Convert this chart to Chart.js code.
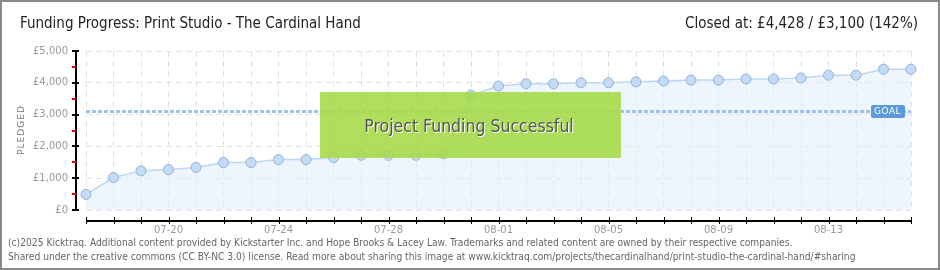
<!DOCTYPE html>
<html>
<head>
<meta charset="utf-8">
<script src="https://cdn.jsdelivr.net/npm/chart.js@4.4.1/dist/chart.umd.min.js"></script>
<style>
  body { margin: 0; background: #fff; }
  #wrap { width: 940px; height: 270px; position: relative; }
</style>
</head>
<body>
<div id="wrap"><canvas id="grafico" width="940" height="270"></canvas></div>
<script>
// dados
const datas = ['07-17','07-18','07-19','07-20','07-21','07-22','07-23','07-24','07-25','07-26',
               '07-27','07-28','07-29','07-30','07-31','08-01','08-02','08-03','08-04','08-05',
               '08-06','08-07','08-08','08-09','08-10','08-11','08-12','08-13','08-14','08-15','08-16'];
const arrecadado = [490, 1020, 1230, 1270, 1340, 1490, 1490, 1585, 1585, 1650,
                    1720, 1720, 1720, 1770, 3615, 3900, 3970, 3970, 4000, 4000,
                    4030, 4055, 4085, 4085, 4120, 4120, 4150, 4240, 4240, 4428, 4428];
const meta = 3100;
const rotulosX = ['07-20', '07-24', '07-28', '08-01', '08-05', '08-09', '08-13'];
const ticksY = [0, 500, 1000, 1500, 2000, 2500, 3000, 3500, 4000, 4500, 5000];

const titulo = 'Funding Progress: Print Studio - The Cardinal Hand';
const resumo = 'Closed at: £4,428 / £3,100 (142%)';
const rodape1 = '(c)2025 Kicktraq. Additional content provided by Kickstarter Inc. and Hope Brooks & Lacey Law. Trademarks and related content are owned by their respective companies.';
const rodape2 = 'Shared under the creative commons (CC BY-NC 3.0) license. Read more about sharing this image at www.kicktraq.com/projects/thecardinalhand/print-studio-the-cardinal-hand/#sharing';

const fonteTitulo = "'Liberation Sans Narrow', 'DejaVu Sans Condensed', sans-serif";

// desenha textos, eixos, meta e caixa verde
const extras = {
    id: 'extras',
    beforeDraw(chart) {
        const ctx = chart.ctx;
        ctx.save();
        ctx.fillStyle = '#fff';
        ctx.fillRect(0, 0, 940, 270);
        ctx.restore();
    },
    afterDatasetsDraw(chart) {
        const ctx = chart.ctx;
        const x = chart.scales.x;
        const y = chart.scales.y;
        const area = chart.chartArea;

        // linha da meta
        const yMeta = Math.round(y.getPixelForValue(meta));
        ctx.save();
        ctx.fillStyle = '#9fc1ea';
        for (let px = area.left; px < area.right; px += 6) {
            ctx.fillRect(px, yMeta - 1, Math.min(4, area.right - px), 3);
        }
        ctx.restore();

        // caixa "sucesso"
        ctx.save();
        ctx.fillStyle = 'rgba(163, 218, 66, 0.88)';
        ctx.fillRect(320, 92, 301, 66);
        ctx.strokeStyle = 'rgba(255,255,255,0.08)';
        ctx.lineWidth = 1;
        ctx.beginPath();
        ctx.rect(320, 92, 301, 66);
        ctx.clip();
        for (let i = -80; i < 320; i += 4) {
            ctx.moveTo(320 + i, 158);
            ctx.lineTo(320 + i + 66, 92);
        }
        ctx.stroke();
        ctx.restore();

        ctx.save();
        ctx.font = "17.5px " + fonteTitulo;
        ctx.textAlign = 'center';
        ctx.textBaseline = 'middle';
        ctx.fillStyle = '#fff';
        ctx.fillText('Project Funding Successful', 470, 128);
        ctx.fillStyle = '#555';
        ctx.fillText('Project Funding Successful', 469, 127);
        ctx.restore();

        // etiqueta GOAL
        ctx.save();
        ctx.fillStyle = '#5b9bdc';
        ctx.beginPath();
        ctx.roundRect(871, yMeta - 6, 34, 13, 2);
        ctx.fill();
        ctx.fillStyle = '#fff';
        ctx.font = "9px 'DejaVu Sans'";
        ctx.letterSpacing = '0.5px';
        ctx.textBaseline = 'middle';
        ctx.fillText('GOAL', 874, yMeta + 1);
        ctx.restore();

        // eixo Y deslocado
        ctx.save();
        ctx.fillStyle = '#000';
        ctx.fillRect(75, Math.round(area.top), 2, Math.round(area.bottom - area.top) + 1);
        for (const v of ticksY) {
            const py = Math.round(y.getPixelForValue(v));
            if (v % 1000 === 0) {
                ctx.fillStyle = '#000';
                ctx.fillRect(72, py - 1, 7, 2);
            } else {
                ctx.fillStyle = '#e00';
                ctx.fillRect(72, py - 1, 4, 2);
            }
        }
        // eixo X deslocado
        ctx.fillStyle = '#000';
        ctx.fillRect(Math.round(area.left), 220, Math.round(area.right - area.left) + 1, 2);
        for (let i = 0; i < datas.length; i++) {
            const px = Math.round(x.getPixelForValue(i));
            ctx.fillRect(px, 217, 1, 7);
        }
        ctx.restore();

        // titulo do eixo Y
        ctx.save();
        ctx.translate(22, 130);
        ctx.rotate(-Math.PI / 2);
        ctx.font = "9px 'DejaVu Sans'";
        ctx.fillStyle = '#777';
        ctx.textAlign = 'center';
        ctx.textBaseline = 'middle';
        ctx.letterSpacing = '1px';
        ctx.fillText('PLEDGED', 0, 0);
        ctx.restore();

        // titulos e rodape
        ctx.save();
        ctx.fillStyle = '#222';
        ctx.font = "15px " + fonteTitulo;
        ctx.textBaseline = 'middle';
        ctx.fillText(titulo, 20, 24);
        ctx.textAlign = 'right';
        ctx.fillText(resumo, 918, 24);
        ctx.textAlign = 'left';
        ctx.fillStyle = '#666';
        ctx.font = "10.2px " + fonteTitulo;
        ctx.fillText(rodape1, 8, 243);
        ctx.fillText(rodape2, 8, 257);
        ctx.restore();

        // borda
        ctx.save();
        ctx.strokeStyle = '#8a8a8a';
        ctx.lineWidth = 2;
        ctx.strokeRect(1, 1, 938, 268);
        ctx.restore();
    }
};

const ctx = document.getElementById('grafico').getContext('2d');

const grafico = new Chart(ctx, {
    type: 'line',
    data: {
        labels: datas,
        datasets: [{
            data: arrecadado,
            borderColor: '#bcd7f3',
            borderWidth: 1.5,
            backgroundColor: 'rgba(226, 238, 251, 0.6)',
            fill: 'origin',
            tension: 0,
            pointRadius: 5,
            pointBackgroundColor: '#c4dbf5',
            pointBorderColor: '#94b2d8',
            pointBorderWidth: 1
        }]
    },
    options: {
        responsive: false,
        devicePixelRatio: 1,
        animation: false,
        layout: { padding: { top: 51, right: 29, left: 0, bottom: 0 } },
        plugins: {
            legend: { display: false },
            tooltip: { enabled: false }
        },
        scales: {
            x: {
                type: 'category',
                offset: false,
                afterFit(scale) { scale.height = 60; },
                grid: { color: '#e2e2e2', drawTicks: false, lineWidth: 1 },
                border: { display: false, dash: [6, 4] },
                ticks: {
                    autoSkip: false,
                    maxRotation: 0,
                    padding: 14,
                    color: '#999',
                    font: { family: 'DejaVu Sans', size: 10 },
                    callback: function(valor, i) {
                        const d = datas[i];
                        return rotulosX.includes(d) ? d : '';
                    }
                }
            },
            y: {
                min: 0,
                max: 5000,
                afterFit(scale) { scale.width = 86; },
                afterBuildTicks(scale) { scale.ticks = ticksY.map(v => ({ value: v })); },
                grid: {
                    drawTicks: false,
                    color: c => (c.tick && c.tick.value % 1000 === 0) ? '#e2e2e2' : 'rgba(0,0,0,0)'
                },
                border: { display: false, dash: [6, 4] },
                ticks: {
                    padding: 18,
                    color: '#999',
                    font: { family: 'DejaVu Sans', size: 10 },
                    callback: v => v % 1000 === 0 ? '£' + v.toLocaleString('en-US') : ''
                }
            }
        }
    },
    plugins: [extras]
});
</script>
</body>
</html>
